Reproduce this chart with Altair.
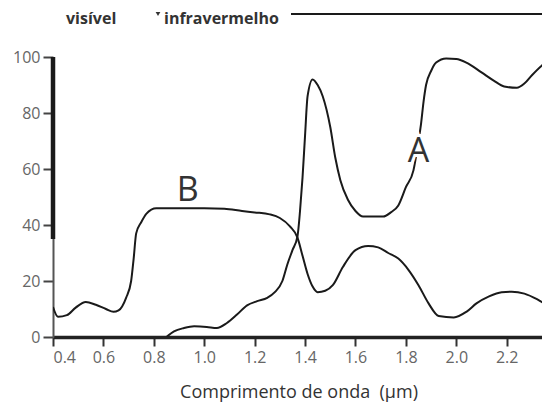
import altair as alt
import pandas as pd

# ---- data ----
a_x = [0.85, 0.88, 0.92, 0.96, 1.01, 1.05, 1.09, 1.13, 1.17, 1.21, 1.25, 1.28, 1.31, 1.33, 1.35, 1.37,
       1.38, 1.39, 1.40, 1.41, 1.43, 1.45, 1.47, 1.50, 1.52, 1.54, 1.57, 1.60, 1.63, 1.67, 1.71,
       1.74, 1.77, 1.80, 1.83, 1.85, 1.86, 1.87, 1.88, 1.90, 1.92, 1.96, 2.00, 2.04, 2.10, 2.15,
       2.19, 2.24, 2.27, 2.30, 2.34, 2.37]
a_y = [0, 2, 3.2, 3.8, 3.6, 3.2, 5, 8, 11.3, 12.8, 14, 16, 20, 26, 31, 36,
       45, 57, 72, 86, 92, 90, 86, 75, 64, 56, 49, 45, 43, 43, 43,
       44.5, 47, 53.5, 59.5, 70, 76, 84, 90, 95, 98, 99.5, 99.3, 98, 94.5, 91.5,
       89.5, 89, 90.5, 93.5, 97, 99]

b_x = [0.40, 0.42, 0.455, 0.49, 0.53, 0.57, 0.61, 0.64, 0.66, 0.69, 0.71, 0.72, 0.73, 0.75, 0.77,
       0.81, 0.90, 1.00, 1.08, 1.15, 1.20, 1.26, 1.30, 1.34, 1.37, 1.39, 1.41, 1.43, 1.45, 1.48,
       1.51, 1.55, 1.60, 1.65, 1.69, 1.73, 1.77, 1.81, 1.85, 1.89, 1.93, 1.99, 2.04, 2.08, 2.13,
       2.18, 2.22, 2.27, 2.32, 2.37]
b_y = [10.7, 7.2, 7.8, 10.5, 12.5, 11.5, 10.0, 9.0, 9.5, 14.0, 20.0, 28.0, 37.0, 41.0, 44.0,
       46.0, 46.0, 46.0, 45.8, 45.0, 44.5, 43.8, 42.5, 39.5, 35.5, 29.0, 22.5, 18.0, 16.0, 16.5,
       18.5, 25.0, 31.0, 32.5, 32.0, 30.0, 28.0, 24.0, 18.5, 12.0, 7.5, 7.0, 9.0, 12.0, 14.5,
       16.0, 16.2, 15.5, 13.5, 10.7]

x_ticks = [0.4, 0.6, 0.8, 1.0, 1.2, 1.4, 1.6, 1.8, 2.0, 2.2]
y_ticks = [0, 20, 40, 60, 80, 100]

curve_labels = ["A", "B"]
label_x = [1.85, 0.935]
label_y = [66, 52]

FONT = "Open Sans"
W, H = 489, 280

df = pd.DataFrame({
    "x": a_x + b_x,
    "y": a_y + b_y,
    "s": ["A"] * len(a_x) + ["B"] * len(b_x),
})
labels = pd.DataFrame({"t": curve_labels, "x": label_x, "y": label_y})

xs = alt.Scale(domain=[0.4, 2.34], nice=False, zero=False)
ys = alt.Scale(domain=[0, 100], nice=False)

xax = alt.Axis(
    values=x_ticks, format=".1f", title=None, grid=False,
    domainColor="#222", domainWidth=3.5, tickColor="#333", tickWidth=2, tickSize=9,
    labelFont=FONT, labelFontSize=16, labelColor="#666", labelPadding=3)
yax = alt.Axis(
    values=y_ticks, title=None, grid=False,
    domainColor="#555", domainWidth=2, tickColor="#444", tickWidth=2, tickSize=10,
    labelFont=FONT, labelFontSize=16, labelColor="#666", labelPadding=3)

X = lambda f: alt.X(f, scale=xs, axis=xax)
Y = lambda f: alt.Y(f, scale=ys, axis=yax)

lines = alt.Chart(df).mark_line(
    color="#1a1a1a", strokeWidth=2, interpolate="monotone", clip=True
).encode(x=X("x:Q"), y=Y("y:Q"), detail="s:N")

# thick upper part of the y axis line
axis_rule = alt.Chart(pd.DataFrame({"x": [0.4], "y": [35], "y2": [100]})).mark_rule(
    color="#1a1a1a", strokeWidth=4.5
).encode(x=X("x:Q"), y=Y("y:Q"), y2="y2:Q")

halo = alt.Chart(labels).mark_text(
    font=FONT, fontSize=34, fill="white", stroke="white", strokeWidth=6, baseline="middle"
).encode(x=X("x:Q"), y=Y("y:Q"), text="t:N")
label_text = alt.Chart(labels).mark_text(
    font=FONT, fontSize=34, color="#333", baseline="middle"
).encode(x=X("x:Q"), y=Y("y:Q"), text="t:N")

visivel = alt.Chart(pd.DataFrame({"t": ["visível"]})).mark_text(
    font=FONT, fontSize=16, fontWeight="bold", color="#333", align="left", baseline="alphabetic"
).encode(x=alt.value(13), y=alt.value(-33), text="t:N")

infra = alt.Chart(pd.DataFrame({"t": ["infravermelho"]})).mark_text(
    font=FONT, fontSize=16, fontWeight="bold", color="#333", align="left", baseline="alphabetic"
).encode(x=alt.value(111), y=alt.value(-33), text="t:N")

arrow = alt.Chart(pd.DataFrame({"t": ["a"]})).mark_point(
    shape="triangle-down", filled=True, color="#333", size=22, opacity=1
).encode(x=alt.value(105), y=alt.value(-43))

top_line = alt.Chart(pd.DataFrame({"t": ["a"]})).mark_rule(
    color="#1a1a1a", strokeWidth=2
).encode(x=alt.value(238), x2=alt.value(W + 10), y=alt.value(-43))

xtitle = alt.Chart(pd.DataFrame({"t": ["Comprimento de onda\u00a0 (µm)"]})).mark_text(
    font=FONT, fontSize=18, color="#333", align="center", baseline="alphabetic"
).encode(x=alt.value(246), y=alt.value(341), text="t:N")

chart = alt.layer(
    lines, axis_rule, halo, label_text, visivel, infra, arrow, top_line, xtitle
).properties(
    width=W, height=H,
    padding={"left": 45, "top": 49, "right": 0, "bottom": 67},
    autosize=alt.AutoSizeParams(type="none"),
).configure_view(stroke=None)

chart.save("out.html", embed_options={"renderer": "svg", "actions": False})
